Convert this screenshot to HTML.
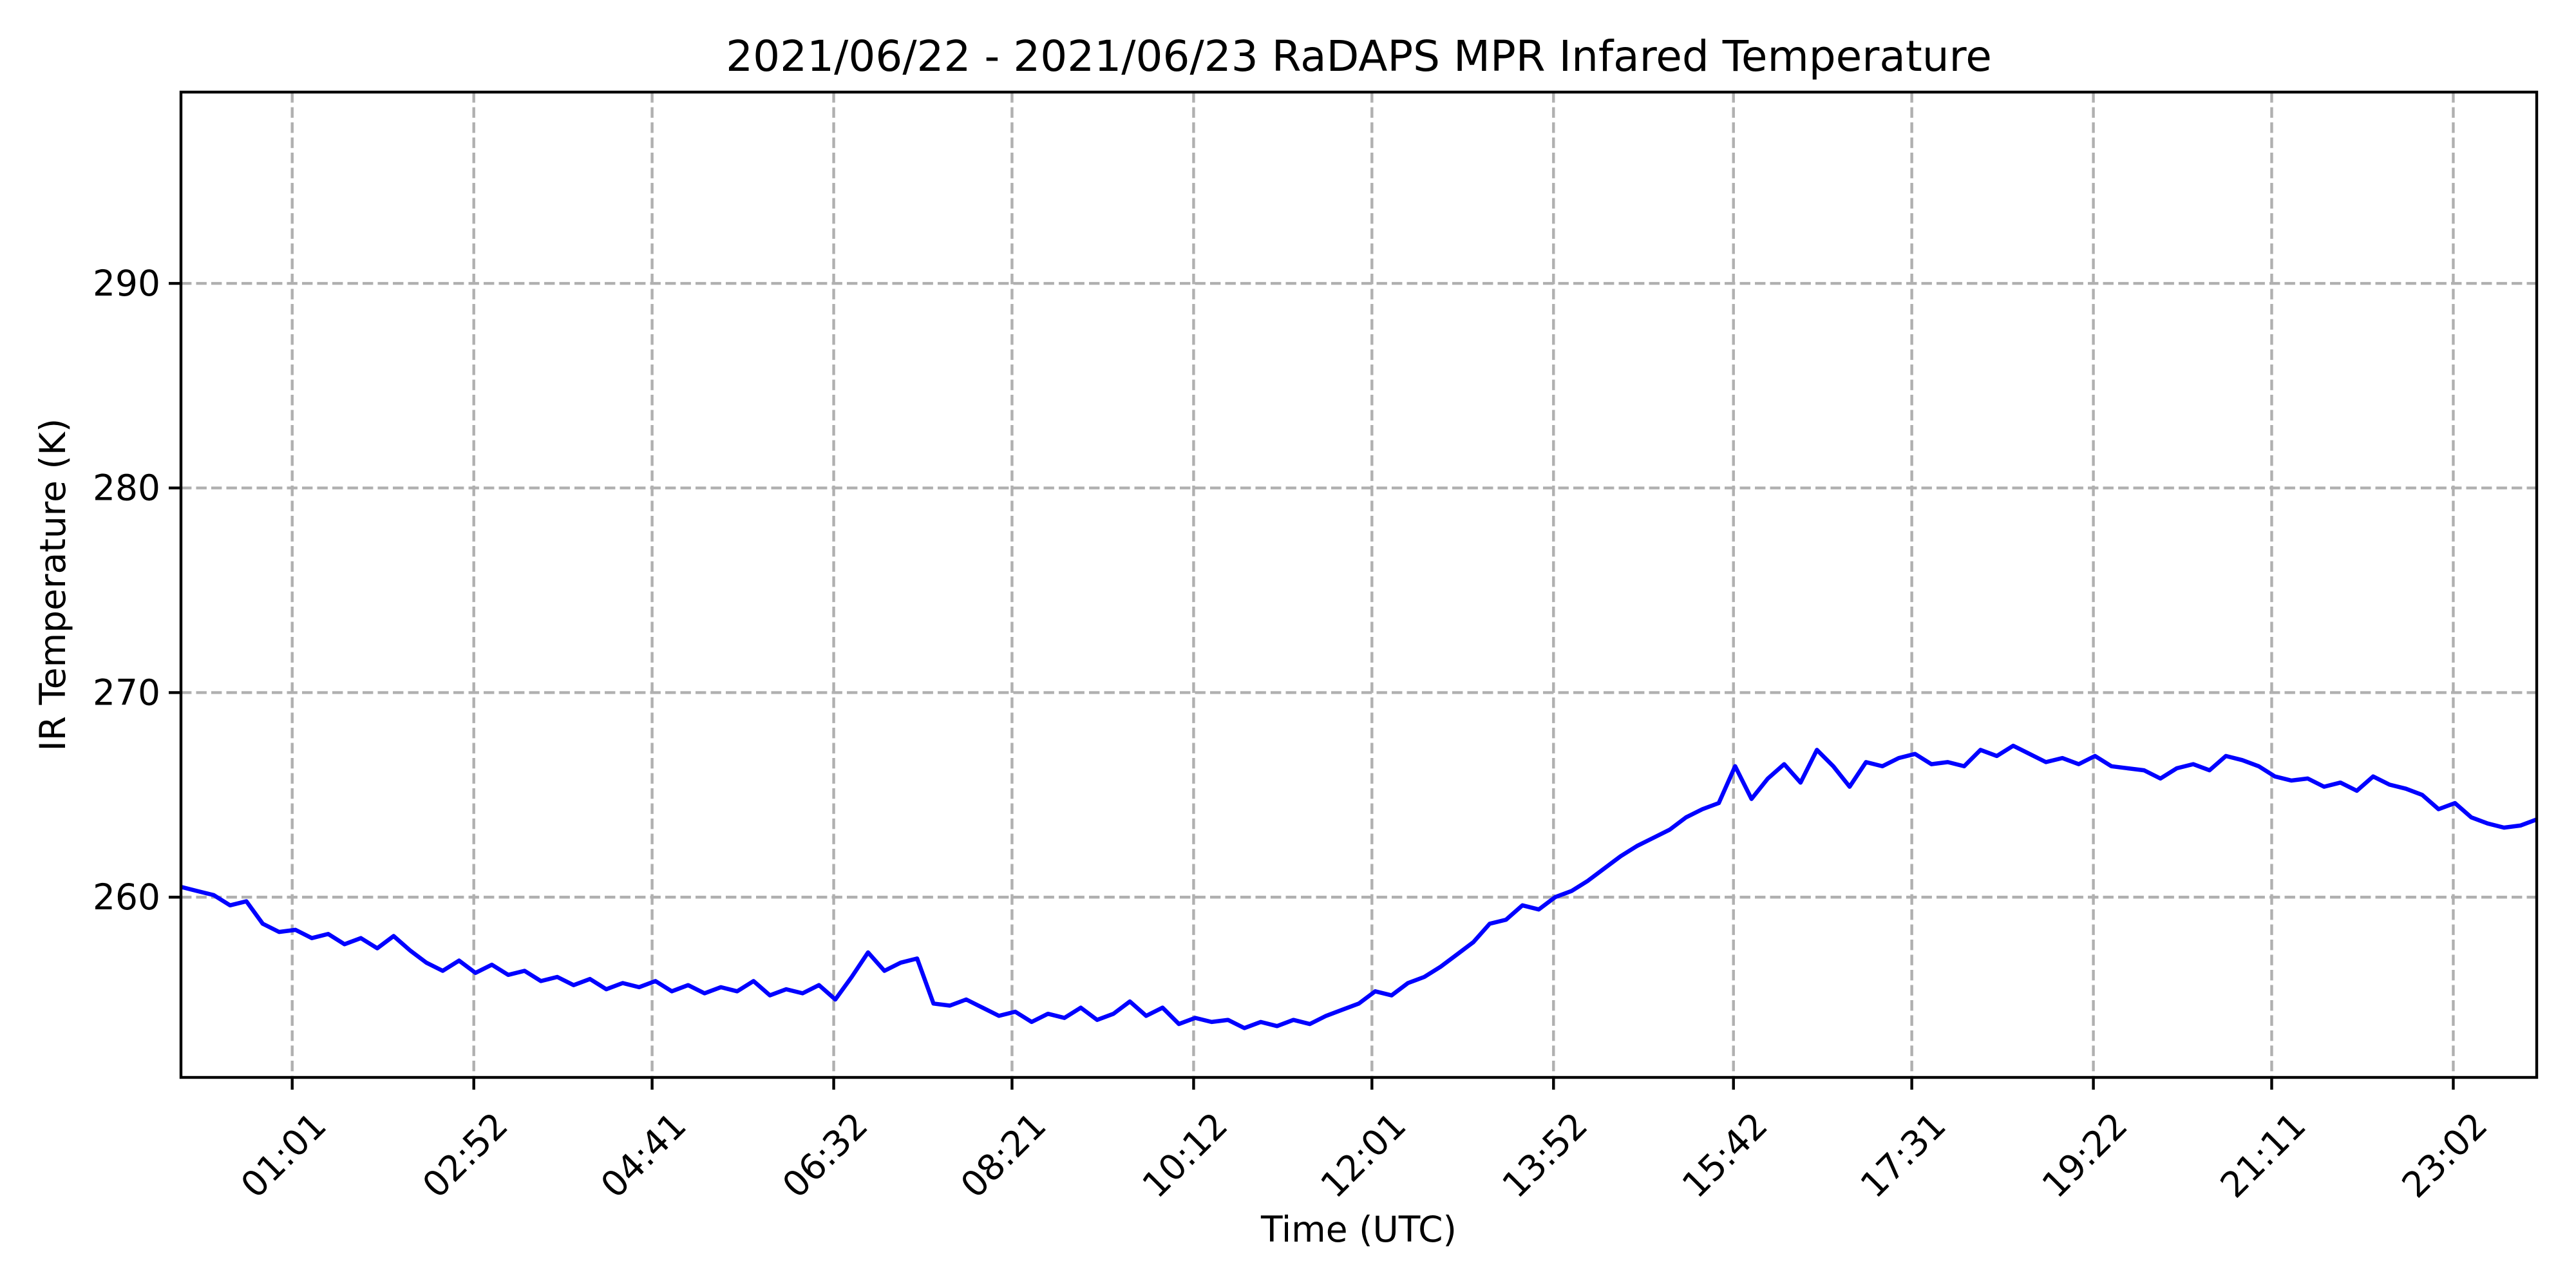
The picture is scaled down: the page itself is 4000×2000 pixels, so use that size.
<!DOCTYPE html>
<html><head><meta charset="utf-8"><style>
html,body{margin:0;padding:0;background:#fff;}
svg{display:block;font-family:"DejaVu Sans","Liberation Sans",sans-serif;}
</style></head><body>
<svg id="chart" width="4000" height="2000" viewBox="0 0 4000 2000" xmlns="http://www.w3.org/2000/svg">
<rect x="0" y="0" width="4000" height="2000" fill="#fff"/>
<text x="2110" y="110" font-size="66" text-anchor="middle">2021/06/22 - 2021/06/23 RaDAPS MPR Infared Temperature</text>
<g id="grid"></g>
<g id="series"></g>
<rect x="281" y="143" width="3658" height="1530" fill="none" stroke="#000" stroke-width="4.4"/>
<g id="axes"></g>
<text x="0" y="0" font-size="55" text-anchor="middle" transform="translate(101,908) rotate(-90)">IR Temperature (K)</text>
<text x="2110" y="1928" font-size="55" text-anchor="middle">Time (UTC)</text>
</svg>
<script>
const xTickMinutes = [61,172,281,392,501,612,721,832,942,1051,1162,1271,1382];
const xTickLabels = ["01:01","02:52","04:41","06:32","08:21","10:12","12:01","13:52","15:42","17:31","19:22","21:11","23:02"];
const yTickValues = [260,270,280,290];
const yTickLabels = ["260","270","280","290"];
const startMinute = -7;
const stepMinutes = 10;
const tempK = [260.5,260.3,260.1,259.6,259.8,258.7,258.3,258.4,258.0,258.2,257.7,258.0,257.5,258.1,257.4,256.8,256.4,256.9,256.3,256.7,
256.2,256.4,255.9,256.1,255.7,256.0,255.5,255.8,255.6,255.9,255.4,255.7,255.3,255.6,255.4,255.9,255.2,255.5,255.3,255.7,
255.0,256.1,257.3,256.4,256.8,257.0,254.8,254.7,255.0,254.6,254.2,254.4,253.9,254.3,254.1,254.6,254.0,254.3,254.9,254.2,
254.6,253.8,254.1,253.9,254.0,253.6,253.9,253.7,254.0,253.8,254.2,254.5,254.8,255.4,255.2,255.8,256.1,256.6,257.2,257.8,
258.7,258.9,259.6,259.4,260.0,260.3,260.8,261.4,262.0,262.5,262.9,263.3,263.9,264.3,264.6,266.4,264.8,265.8,266.5,265.6,
267.2,266.4,265.4,266.6,266.4,266.8,267.0,266.5,266.6,266.4,267.2,266.9,267.4,267.0,266.6,266.8,266.5,266.9,266.4,266.3,
266.2,265.8,266.3,266.5,266.2,266.9,266.7,266.4,265.9,265.7,265.8,265.4,265.6,265.2,265.9,265.5,265.3,265.0,264.3,264.6,
263.9,263.6,263.4,263.5,263.8];

const X0=281, X1=3939, Y0=1673, Y1=143;
const xMin=-7, xMax=1433, yMin=251.19, yMax=299.35;
function xs(m){return X0+(m-xMin)/(xMax-xMin)*(X1-X0);}
function ys(v){return Y0-(v-yMin)/(yMax-yMin)*(Y0-Y1);}
const NS="http://www.w3.org/2000/svg";
const grid=document.getElementById('grid'), axes=document.getElementById('axes'), series=document.getElementById('series');
function mk(tag,attrs,parent){const e=document.createElementNS(NS,tag);for(const k in attrs)e.setAttribute(k,attrs[k]);parent.appendChild(e);return e;}

xTickMinutes.forEach((m,i)=>{
  const x=xs(m);
  const g=mk('line',{x1:x,x2:x,y1:Y1,y2:Y0,stroke:'#b0b0b0','stroke-width':4.4,'stroke-dasharray':'16.4 7.1'},grid);
  
  
  const t=mk('line',{x1:x,x2:x,y1:Y0,y2:Y0+19,stroke:'#000','stroke-width':4.4},axes);
  
  
  const lb=mk('text',{x:0,y:0,'font-size':55,'text-anchor':'end',transform:`translate(${x+56},${Y0+78}) rotate(-45)`},axes);
  lb.textContent=xTickLabels[i];
  
  
});
yTickValues.forEach((v,i)=>{
  const y=ys(v);
  const g=mk('line',{x1:X0,x2:X1,y1:y,y2:y,stroke:'#b0b0b0','stroke-width':4.4,'stroke-dasharray':'16.4 7.1'},grid);
  
  
  const t=mk('line',{x1:X0-19,x2:X0,y1:y,y2:y,stroke:'#000','stroke-width':4.4},axes);
  
  
  const lb=mk('text',{x:X0-32,y:y+19,'font-size':55,'text-anchor':'end'},axes);
  lb.textContent=yTickLabels[i];
  
  
});
let d='';
tempK.forEach((v,i)=>{
  const m=Math.min(startMinute+i*stepMinutes,xMax);
  d+=(i?'L':'M')+xs(m).toFixed(1)+' '+ys(v).toFixed(1);
});
const cp=mk('clipPath',{id:'clip'},series);
mk('rect',{x:X0,y:Y1,width:X1-X0,height:Y0-Y1},cp);
const line=mk('path',{d:d,fill:'none',stroke:'#0000ff','stroke-width':6.5,'stroke-linejoin':'round','clip-path':'url(#clip)'},series);


</script>
</body></html>
